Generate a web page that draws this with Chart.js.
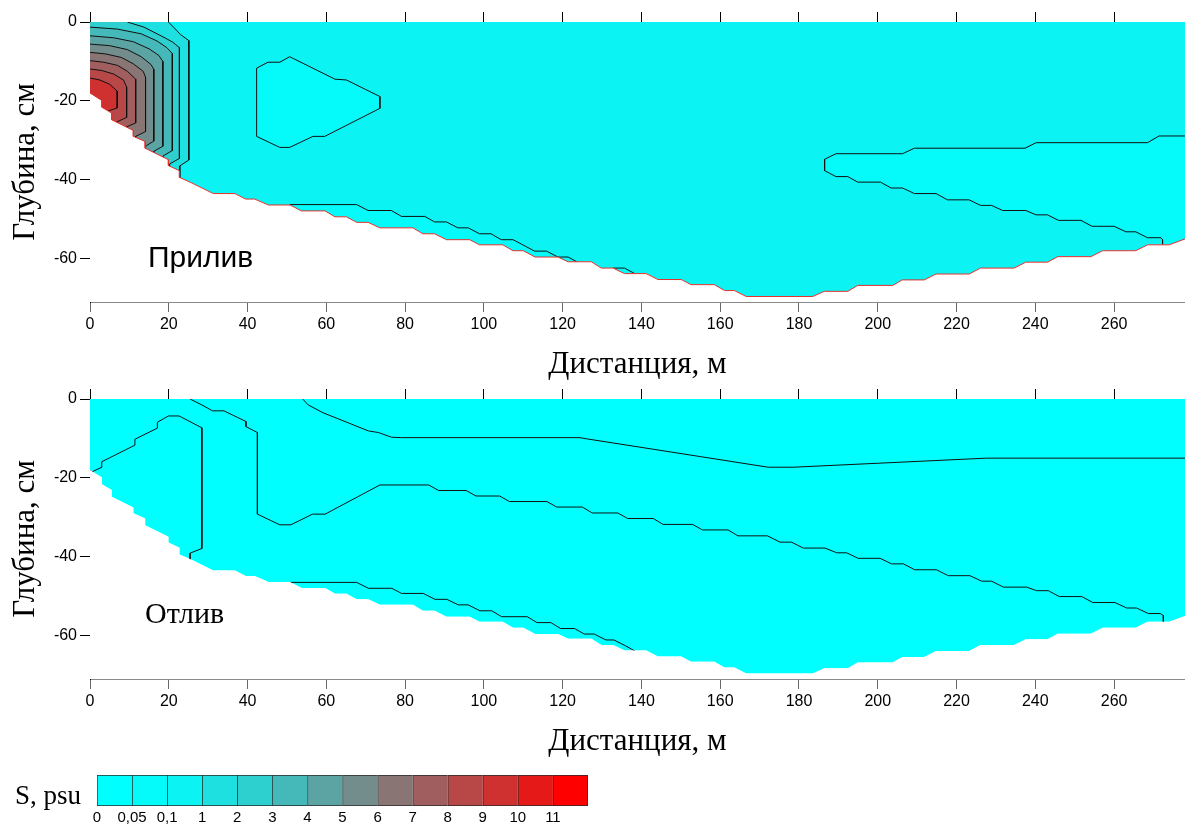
<!DOCTYPE html>
<html>
<head>
<meta charset="utf-8">
<script src="https://cdn.jsdelivr.net/npm/chart.js@4.4.1/dist/chart.umd.min.js"></script>
<style>
  html, body { margin: 0; padding: 0; background: #fff; width: 1185px; height: 826px; overflow: hidden; }
  body { position: relative; }
  canvas { position: absolute; left: 0; }
  .lbl { position: absolute; color: #000; white-space: nowrap; line-height: 1; }
</style>
</head>
<body>
<canvas id="flood" width="1185" height="380" style="top:0"></canvas>
<canvas id="ebb" width="1185" height="380" style="top:377px"></canvas>
<canvas id="scale" width="620" height="66" style="top:760px"></canvas>
<div class="lbl" style="left:148px;top:240px;font:30px 'Liberation Sans',Arial,sans-serif">Прилив</div>
<div class="lbl" style="left:145px;top:596px;font:30px 'Liberation Serif','Times New Roman',serif">Отлив</div>
<div class="lbl" style="left:15px;top:780px;font:27px 'Liberation Serif','Times New Roman',serif">S, psu</div>
<script>
// ---- axes ----
const xTicks = [0, 20, 40, 60, 80, 100, 120, 140, 160, 180, 200, 220, 240, 260];
const yTicks = [0, -20, -40, -60];
const X_MAX = 278;
const Y_MIN = -71;

// ---- salinity classes (psu) ----
const classColors = ['#00ffff', '#05fafa', '#0cf3f3', '#1ee0e0', '#2ecfcf', '#45b9b9', '#5ca3a3',
                     '#738c8c', '#8a7575', '#a15e5e', '#b84747', '#cf3030', '#e61919', '#ff0000'];
const classLabels = ['0', '0,05', '0,1', '1', '2', '3', '4', '5', '6', '7', '8', '9', '10', '11'];

// ---- river bed along the transect: [distance m, depth cm] ----
const bed = [
  [0, -18], [3, -19.9], [3, -21.6], [5.5, -23.1], [5.5, -24.8], [11, -27.5], [11, -29], [14, -30.3], [14, -32],
  [19.9, -34.9], [19.9, -36.4], [22.7, -37.7], [22.7, -39.4], [25.4, -40.6], [31.3, -43.5], [36.8, -43.5],
  [39.5, -44.9], [41.8, -44.9], [45.3, -46.4], [50.8, -46.4], [53.7, -47.9], [59.7, -47.9], [62.2, -49.4],
  [65.1, -49.4], [67.7, -50.8], [70.6, -50.8], [73.6, -52.2], [82, -52.2], [84.5, -53.7], [87.5, -53.7],
  [90.5, -55.2], [96.4, -55.2], [98.9, -56.5], [104.8, -56.5], [107.4, -58], [110, -58], [113, -59.6],
  [118.8, -59.6], [121.4, -60.8], [127.3, -60.8], [129.8, -62.4], [132.8, -62.4], [135.7, -63.8], [141.2, -63.8],
  [144.2, -65.3], [150.1, -65.3], [152.6, -66.6], [158.5, -66.6], [161.1, -68.1], [163.6, -68.1], [166.6, -69.6],
  [183.5, -69.6], [186.4, -68.3], [192.4, -68.3], [194.9, -66.8], [203.8, -66.8], [206.2, -65.4], [211.8, -65.4],
  [214.8, -63.9], [223.2, -63.9], [226.1, -62.4], [234.6, -62.4], [237.6, -60.9], [243.1, -60.9], [245.7, -59.5],
  [254.1, -59.5], [257.1, -58], [265.5, -58], [268.5, -56.5], [274, -56.5], [278, -55]
];

// ---- flood tide isohalines ----
const floodS1 = [[19.9, 0], [21.4, -1.5], [23, -3.2], [25.1, -4.7], [25.1, -35], [22.8, -36.5], [22.8, -41.5]];
const floodS2 = [[9.5, 0], [13.7, -1.3], [18.8, -3.9], [21, -5.1], [22.7, -6.5], [22.7, -34.6], [20.2, -36], [20.2, -38.5]];
const floodS3 = [[0, -1.3], [7, -1.8], [13, -3], [17, -4.8], [19.5, -6.5], [20.9, -8], [20.9, -32.6], [18.5, -34], [18.5, -36]];
const floodS4 = [[0, -3.5], [6, -4], [11, -5], [15, -6.8], [17.5, -8.5], [18.5, -10], [18.5, -31.5], [16.2, -32.8], [16.2, -35]];
const floodS5 = [[0, -5.6], [5, -6], [9.5, -7], [13, -8.8], [15.5, -10.8], [16.2, -12], [16.2, -30.2], [14.1, -31.5], [14.1, -34]];
const floodS6 = [[0, -7.7], [4, -8.1], [8, -9], [11, -10.6], [13.5, -12.5], [14.1, -14], [14.1, -27.8], [11.6, -29], [11.6, -31]];
const floodS7 = [[0, -9.8], [3.5, -10.2], [7, -11], [9.5, -12.5], [11.6, -14.5], [11.6, -25.6], [9.3, -26.6], [9.3, -28.5]];
const floodS8 = [[0, -11.9], [3, -12.3], [6, -13.2], [8.5, -14.7], [9.3, -16.5], [9.3, -24.2], [6.9, -25.3], [6.9, -27]];
const floodS9 = [[0, -14.2], [2.5, -14.7], [5, -15.8], [6.9, -17.5], [6.9, -21.8], [4.5, -22.6], [4.5, -25]];
const floodCore = [floodS1, floodS2, floodS3, floodS4, floodS5, floodS6, floodS7, floodS8, floodS9];

const floodPocket = [[42.3, -11.7], [45.2, -10.2], [48.2, -10.2], [50.7, -8.8], [62.2, -14.5], [65.1, -14.7],
  [73.6, -18.9], [73.6, -21.9], [59.6, -29], [56.6, -29], [50.7, -31.8], [48.2, -31.8], [42.3, -29], [42.3, -11.7]];
const floodBedBand = [[50.7, -46.3], [67.7, -46.3], [70.6, -47.8], [76.5, -47.8], [79.1, -49.3], [85, -49.3],
  [87.5, -50.7], [90.5, -50.7], [93.4, -52.2], [96, -52.2], [98.9, -53.7], [101.8, -53.7], [104.4, -55.2],
  [107.4, -55.2], [112.9, -58.1], [115.9, -58.1], [118.8, -59.6], [121.4, -59.6], [124.3, -61.2]];
const floodBedPatch = [[132.8, -62.4], [135.7, -62.4], [138.3, -63.8]];
const floodWedge = [[278, -28.9], [271.4, -28.9], [268.5, -30.6], [240.2, -30.6], [237.4, -32], [209.3, -32],
  [206.3, -33.4], [189.4, -33.4], [186.5, -34.8], [186.5, -37.7], [189.4, -39.2], [192.4, -39.2], [194.9, -40.6],
  [200.7, -40.6], [203.4, -42.1], [206.3, -42.1], [209.3, -43.5], [214.8, -43.5], [217.7, -45.1], [223.2, -45.1],
  [226.1, -46.5], [228.9, -46.5], [231.7, -47.8], [237.6, -47.8], [240.2, -48.9], [243.1, -48.9], [245.9, -50.3],
  [251.6, -50.3], [254.4, -51.8], [260, -51.8], [263, -53.2], [265.5, -53.2], [268.5, -54.7], [271.9, -54.7],
  [272.3, -55.2], [272.3, -56.5]];

// ---- ebb tide isohalines ----
const ebbNear = [[0, -18.7], [3, -17.3], [3, -15.9], [11.4, -11.7], [11.4, -10.2], [17.1, -7.4], [17.1, -5.9],
  [19.9, -4.3], [22.6, -4.3], [28.4, -7.3], [28.4, -37.9], [25.4, -39.1], [25.4, -41]];
const ebbMid = [[25.4, 0], [28.4, -1.5], [31.1, -3], [34, -3], [39.6, -5.7], [39.6, -7], [42.5, -8.5], [42.5, -29.2],
  [48.2, -31.9], [51, -31.9], [56.5, -29.2], [59.7, -29.2], [73.6, -21.8], [86, -21.8], [88.5, -23.2], [95.5, -23.2],
  [98, -24.6], [104, -24.6], [106.5, -26], [116, -26], [118.5, -27.4], [125, -27.4], [127.5, -28.9], [134, -28.9],
  [136.5, -30.3], [143, -30.3], [145.5, -31.8], [153, -31.8], [155.5, -33.2], [162, -33.2], [164.5, -34.7],
  [172, -34.7], [175.2, -36.3], [178.1, -36.3], [181.1, -37.8], [186.6, -37.8], [189.6, -39], [192.1, -39],
  [195, -40.4], [200.6, -40.4], [203.5, -41.8], [206.5, -41.8], [209.4, -43.3], [214.9, -43.3], [217.9, -44.8],
  [223.4, -44.8], [226.4, -46.2], [228.9, -46.2], [231.9, -47.7], [237.8, -47.7], [240.3, -48.6], [243.3, -48.6],
  [246.1, -50.1], [251.8, -50.1], [254.6, -51.6], [260.2, -51.6], [263.2, -53], [265.7, -53], [268.7, -54.4],
  [271.7, -54.4], [272.5, -54.9], [272.5, -56.5]];
const ebbUpper = [[54, 0], [55.4, -1.5], [59.2, -3.5], [65.2, -5.9], [70.7, -8.1], [73.2, -8.5], [76.6, -9.7],
  [79.1, -9.8], [124.4, -9.8], [126.1, -10.1], [154.9, -14.6], [172.2, -17.3], [178.5, -17.3], [227.6, -15], [278, -15]];
const ebbLower = [[50.8, -46.5], [67.7, -46.5], [70.7, -48], [76.6, -48], [79.1, -49.3], [84.6, -49.3], [87.6, -50.8],
  [90.6, -50.8], [93.5, -52.2], [96, -52.2], [99, -53.7], [102, -53.7], [104.5, -55.2], [111, -55.2], [113.5, -56.7],
  [117, -56.7], [119.5, -58.2], [123, -58.2], [125.5, -59.6], [128, -59.6], [131, -61.1], [133, -61.1], [136, -62.6],
  [138.5, -64]];

// ---- helpers ----
const pts = arr => arr.map(([x, y]) => ({ x, y }));
const NONE = 'rgba(0,0,0,0)';

function area(arr, color, fill) {
  return { data: pts(arr), backgroundColor: color, borderColor: NONE, borderWidth: 0, fill, showLine: true };
}
function iso(arr) {
  return { data: pts(arr), borderColor: '#111', borderWidth: 1, fill: false, showLine: true };
}
function mask(edge) {
  return { data: pts(bed), backgroundColor: '#ffffff', borderColor: edge, borderWidth: edge === NONE ? 0 : 1, fill: 'start', showLine: true };
}
// region on the shallow/left side of an isohaline that leaves the left or top edge
function coreRegion(line) {
  const poly = line[0][1] === 0 ? [[0, 0]].concat(line) : line.slice();
  const last = line[line.length - 1];
  poly.push([last[0], Y_MIN], [0, Y_MIN]);
  return poly;
}
function wedgeRegion(line) {
  const last = line[line.length - 1];
  return line.concat([[last[0], Y_MIN], [X_MAX, Y_MIN], [X_MAX, line[0][1]]]);
}
// first entry is painted first
function stack(list) {
  return list.map((d, i) => Object.assign({ xAxisID: 'x', yAxisID: 'y', pointRadius: 0, tension: 0, order: list.length - i }, d));
}

const tickFont = { family: "'Liberation Sans', Arial, sans-serif", size: 16 };
const titleFont = { family: "'Liberation Serif', 'Times New Roman', serif", size: 31, lineHeight: 1 };

function panelOptions() {
  return {
    responsive: false,
    animation: false,
    events: [],
    layout: { padding: 0 },
    plugins: { legend: { display: false }, tooltip: { enabled: false }, title: { display: false } },
    scales: {
      x: {
        type: 'linear', position: 'bottom', min: 0, max: X_MAX,
        afterBuildTicks: s => { s.ticks = xTicks.map(v => ({ value: v })); },
        afterFit: s => { s.height = 78; },
        ticks: { font: tickFont, color: '#000', padding: 3, maxRotation: 0, autoSkip: false, callback: v => String(v) },
        grid: { drawOnChartArea: false, drawTicks: true, tickLength: 10, color: '#6a6a6a' },
        border: { display: true, color: '#8a8a8a', width: 1 },
        title: { display: true, text: 'Дистанция, м', font: titleFont, color: '#000', padding: { top: 0, bottom: 0 } }
      },
      xTop: {
        type: 'linear', position: 'top', min: 0, max: X_MAX,
        afterBuildTicks: s => { s.ticks = xTicks.map(v => ({ value: v })); },
        afterFit: s => { s.height = 22; },
        ticks: { display: false },
        grid: { drawOnChartArea: false, drawTicks: true, tickLength: 10, color: '#000' },
        border: { display: true, color: '#000', width: 1 }
      },
      y: {
        type: 'linear', position: 'left', min: Y_MIN, max: 0,
        afterBuildTicks: s => { s.ticks = yTicks.map(v => ({ value: v })); },
        afterFit: s => { s.width = 90; },
        ticks: { font: tickFont, color: '#000', padding: 3, callback: v => String(v) },
        grid: { drawOnChartArea: false, drawTicks: true, tickLength: 10, color: '#000' },
        border: { display: true, color: '#000', width: 1 },
        title: { display: true, text: 'Глубина, см', font: titleFont, color: '#000', padding: { top: 10, bottom: 0 } }
      }
    }
  };
}

// ---- flood tide panel ----
const floodSets = [area(bed, classColors[2], 'end'),
  area(floodPocket, classColors[1], 'shape'),
  area(floodBedBand, classColors[1], 'start'),
  area(floodBedPatch, classColors[1], 'start'),
  area(wedgeRegion(floodWedge), classColors[1], 'shape')];
floodCore.forEach((line, k) => floodSets.push(area(coreRegion(line), classColors[3 + k], 'shape')));
[floodPocket, floodBedBand, floodBedPatch, floodWedge].concat(floodCore).forEach(l => floodSets.push(iso(l)));
floodSets.push(mask('#e3302c'));

new Chart(document.getElementById('flood'), {
  type: 'line',
  data: { datasets: stack(floodSets) },
  options: panelOptions()
});

// ---- ebb tide panel ----
const ebbSets = [area(bed, classColors[0], 'end')];
[ebbNear, ebbMid, ebbUpper, ebbLower].forEach(l => ebbSets.push(iso(l)));
ebbSets.push(mask(NONE));

new Chart(document.getElementById('ebb'), {
  type: 'line',
  data: { datasets: stack(ebbSets) },
  options: panelOptions()
});

// ---- colour scale ----
new Chart(document.getElementById('scale'), {
  type: 'bar',
  data: {
    labels: ['S'],
    datasets: classColors.map((c, i) => ({
      data: [1], backgroundColor: c, borderColor: '#2a2a2a', borderSkipped: false,
      borderWidth: { top: 1, bottom: 1, left: 1, right: i === classColors.length - 1 ? 1 : 0 },
      barPercentage: 1, categoryPercentage: 1
    }))
  },
  options: {
    responsive: false, animation: false, events: [], indexAxis: 'y',
    layout: { padding: { left: 97, right: 32, top: 15, bottom: 0 } },
    plugins: { legend: { display: false }, tooltip: { enabled: false } },
    scales: {
      x: {
        stacked: true, min: 0, max: classColors.length,
        afterBuildTicks: s => { s.ticks = classLabels.map((_, i) => ({ value: i })); },
        afterFit: s => { s.height = 20; },
        ticks: { font: { family: "'Liberation Sans', Arial, sans-serif", size: 15 }, color: '#000', padding: 3,
                 maxRotation: 0, autoSkip: false, callback: v => classLabels[v] ?? '' },
        grid: { display: false, drawTicks: false }, border: { display: false }
      },
      y: { stacked: true, display: false }
    }
  }
});
</script>
</body>
</html>
